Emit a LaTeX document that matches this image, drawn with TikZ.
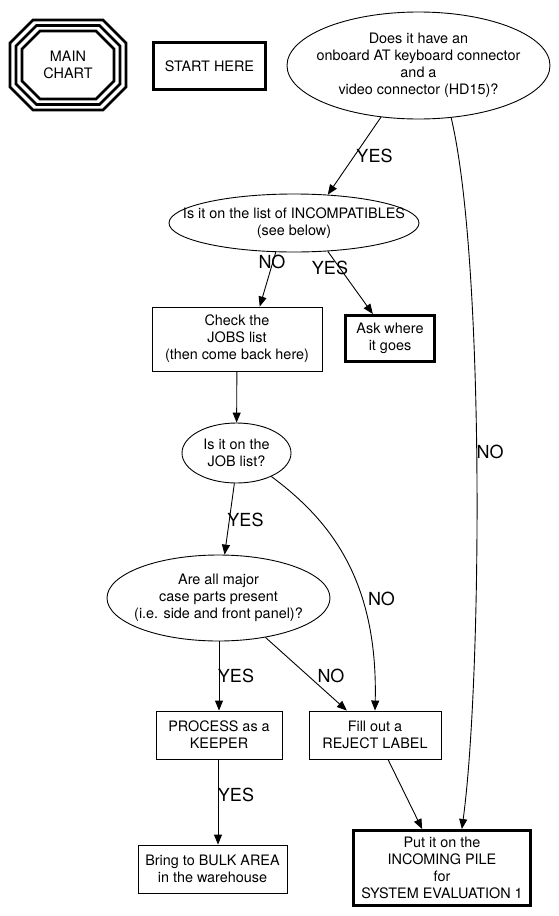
\documentclass[tikz,border=0pt]{standalone}
\usepackage{fontspec}
\setmainfont{TeX Gyre Heros}
\usetikzlibrary{shapes.geometric,arrows.meta}
\begin{document}
\begin{tikzpicture}[x=1pt,y=-1pt,
  txt/.style={font=\fontsize{14.4}{17}\selectfont, align=center},
  box/.style={txt, draw, rectangle, line width=0.9pt, inner sep=0pt},
  thickbox/.style={box, line width=3pt},
  ell/.style={txt, draw, ellipse, line width=0.9pt, inner xsep=-30pt, inner ysep=0pt},
  elabel/.style={font=\fontsize{18}{20}\selectfont, inner sep=0pt},
  conn/.style={line width=0.9pt, -{Triangle[length=10pt,width=8pt]}},
  octline/.style={line width=2.8pt, line join=miter}]
\useasboundingbox (0,0) rectangle (559,916);
% nodes
\node[txt, inner sep=0pt] (main) at (68,65) {MAIN\\CHART};
\foreach \hw/\hh/\c in {58/45/23, 52/39.5/20.5, 46/34/18}
  \draw[octline, shift={(main.center)}]
    (-\hw+\c,-\hh) -- (\hw-\c,-\hh) -- (\hw,-\hh+\c) -- (\hw,\hh-\c)
    -- (\hw-\c,\hh) -- (-\hw+\c,\hh) -- (-\hw,\hh-\c) -- (-\hw,-\hh+\c) -- cycle;
\node[thickbox, minimum width=112pt, minimum height=47pt] (start) at (209.5,66) {START HERE};
\node[ell, minimum width=263pt, minimum height=107pt] (top) at (418.5,65.5)
  {Does it have an\\onboard AT keyboard connector\\and a\\video connector (HD15)?};
\node[ell, minimum width=250pt, minimum height=58pt] (inc) at (294,223)
  {Is it on the list of INCOMPATIBLES\\(see below)};
\node[box, minimum width=170pt, minimum height=64pt] (check) at (237,339)
  {Check the\\JOBS list\\(then come back here)};
\node[thickbox, minimum width=89pt, minimum height=46pt] (ask) at (390,338.5)
  {Ask where\\it goes};
\node[ell, minimum width=109pt, minimum height=60pt] (job) at (236.5,453)
  {Is it on the\\JOB list?};
\node[ell, minimum width=223pt, minimum height=86pt] (case) at (218.5,598)
  {Are all major\\case parts present\\(i.e. side and front panel)?};
\node[box, minimum width=126pt, minimum height=48pt] (process) at (219,735)
  {PROCESS as a\\KEEPER};
\node[box, minimum width=132pt, minimum height=48pt] (fill) at (375,735)
  {Fill out a\\REJECT LABEL};
\node[box, minimum width=149pt, minimum height=48pt] (bulk) at (212.5,869)
  {Bring to BULK AREA\\in the warehouse};
\node[thickbox, minimum width=177pt, minimum height=75pt] (put) at (442,868)
  {Put it on the\\INCOMING PILE\\for\\SYSTEM EVALUATION 1};
% connectors
\draw[conn] (top.234) -- (inc.40);
\draw[conn] (top.302) .. controls (485,260) and (482,680) .. (put.63);
\draw[conn] (inc.238) -- (check.55);
\draw[conn] (inc.320) -- (ask.125);
\draw[conn] (check) -- (job);
\draw[conn] (job.266) -- (case.82);
\draw[conn] (job.326) .. controls (330,520) and (378,580) .. (fill.north);
\draw[conn] (case.south -| process.north) -- (process.north);
\draw[conn] (case.320) -- (fill.139);
\draw[conn] (process.south -| 218,0) -- (bulk.north -| 218,0);
\draw[conn] (fill.298) -- (put.117);
% labels
\node[elabel] (l1) at (374.5,156) {YES};
\node[elabel] (l2) at (490,452) {NO};
\node[elabel] (l3) at (272,262) {NO};
\node[elabel] (l4) at (330,268) {YES};
\node[elabel] (l5) at (245.5,520) {YES};
\node[elabel] (l6) at (381.5,599) {NO};
\node[elabel] (l7) at (236,676) {YES};
\node[elabel] (l8) at (331,676) {NO};
\node[elabel] (l9) at (236,795) {YES};
\end{tikzpicture}
\end{document}
